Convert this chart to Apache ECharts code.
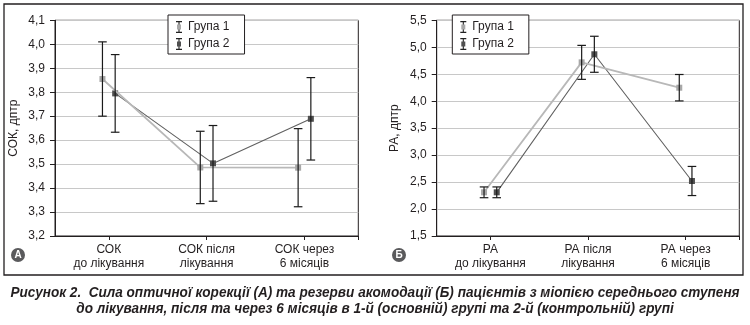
<!DOCTYPE html>
<html><head><meta charset="utf-8">
<script src="https://cdn.jsdelivr.net/npm/echarts@6/dist/echarts.min.js"></script>
<style>html,body{margin:0;padding:0;background:#fff}#c{width:750px;height:325px}</style>
</head><body><div id="c"></div>
<script>
// ---- data ----
const catsA = ['СОК\nдо лікування', 'СОК після\nлікування', 'СОК через\n6 місяців'];
const catsB = ['РА\nдо лікування', 'РА після\nлікування', 'РА через\n6 місяців'];
const seriesNames = ['Група 1', 'Група 2'];
const sokG1 = [3.855, 3.486, 3.485];
const sokG1Err = [0.155, 0.151, 0.163];
const sokG2 = [3.795, 3.503, 3.689];
const sokG2Err = [0.162, 0.158, 0.172];
const raG1 = [2.31, 4.72, 4.25];
const raG1Err = [0.10, 0.315, 0.245];
const raG2 = [2.31, 4.87, 2.52];
const raG2Err = [0.10, 0.334, 0.27];
const yTicksA = {min: 3.2, max: 4.1, interval: 0.1};
const yTicksB = {min: 1.5, max: 5.5, interval: 0.5};
const titleA = 'СОК, дптр';
const titleB = 'РА, дптр';
const captionLines = ['Рисунок 2.  Сила оптичної корекції (А) та резерви акомодації (Б) пацієнтів з міопією середнього ступеня',
  'до лікування, після та через 6 місяців в 1-й (основній) групі та 2-й (контрольній) групі'];

// ---- styles ----
const offs = [-0.065, 0.065];
const c1Line = '#b8b8b8', c1Mark = '#a8a8a8';
const c2Line = '#606060', c2Mark = '#4f4f4f';
const ink = '#231f20';
const font = 'Liberation Sans, Arial, sans-serif';

function pts(vals, g) { return vals.map((v, i) => [i + 1 + offs[g], v]); }
function errs(vals, e, g) { return vals.map((v, i) => [i + 1 + offs[g], v - e[i], v + e[i]]); }

function icon(color) {
  const svg = `<svg xmlns="http://www.w3.org/2000/svg" width="8" height="12" viewBox="0 0 8 12"><path d="M1 0.6H7M4 0.6V11.4M1 11.4H7" stroke="#222" stroke-width="1.1" fill="none"/><rect x="2" y="3.5" width="4" height="5" fill="${color}"/></svg>`;
  return 'image://data:image/svg+xml;charset=utf-8,' + encodeURIComponent(svg);
}

function errRender(params, api) {
  const x = api.value(0), lo = api.value(1), hi = api.value(2);
  const a = api.coord([x, hi]), b = api.coord([x, lo]);
  const w = 4.3;
  const st = {stroke: '#1a1a1a', lineWidth: 1.2};
  return {type: 'group', children: [
    {type: 'line', shape: {x1: a[0], y1: a[1], x2: b[0], y2: b[1]}, style: st},
    {type: 'line', shape: {x1: a[0] - w, y1: a[1], x2: a[0] + w, y2: a[1]}, style: st},
    {type: 'line', shape: {x1: b[0] - w, y1: b[1], x2: b[0] + w, y2: b[1]}, style: st}
  ]};
}

function xAxis(idx, cats) {
  return {
    type: 'value', gridIndex: idx, min: 0.45, max: 3.55,
    axisLine: {show: true, onZero: false, lineStyle: {color: ink, width: 1}},
    axisTick: {show: true, customValues: [1, 2, 3, 3.55], length: 4, lineStyle: {color: ink}},
    axisLabel: {customValues: [1, 2, 3], formatter: v => cats[Math.round(v) - 1],
      color: ink, fontFamily: font, fontSize: 12, lineHeight: 13.5, margin: 7},
    splitLine: {show: false}
  };
}
function yAxis(idx, t, name) {
  return {
    type: 'value', gridIndex: idx, min: t.min, max: t.max, interval: t.interval,
    name: name, nameLocation: 'middle', nameGap: idx === 0 ? 35 : 36, nameRotate: 90,
    nameTextStyle: {color: ink, fontFamily: font, fontSize: 12},
    axisLine: {show: true, lineStyle: {color: ink, width: 1}},
    axisTick: {show: true, length: 5, lineStyle: {color: ink}},
    axisLabel: {color: ink, fontFamily: font, fontSize: 12, margin: 10,
      formatter: v => v.toFixed(1).replace('.', ',')},
    splitLine: {show: true, lineStyle: {color: '#c8c8c8', width: 1}}
  };
}
function lineSeries(idx, name, data, lc, mc, lw, z) {
  return {type: 'line', name: name, xAxisIndex: idx, yAxisIndex: idx, data: data,
    symbol: 'rect', symbolSize: 6, showSymbol: true, z: z,
    lineStyle: {color: lc, width: lw}, itemStyle: {color: mc}, emphasis: {disabled: true}};
}
function errSeries(idx, data, z) {
  return {type: 'custom', xAxisIndex: idx, yAxisIndex: idx, data: data, renderItem: errRender,
    encode: {x: 0, y: [1, 2]}, z: z, silent: true};
}
function legend(idx, left) {
  return {
    show: true, orient: 'vertical', left: left, top: 15,
    borderColor: ink, borderWidth: 1, backgroundColor: '#fff',
    padding: [5, 15, 3, 7], itemGap: 3, itemWidth: 8, itemHeight: 12,
    textStyle: {color: ink, fontFamily: font, fontSize: 12, lineHeight: 14},
    data: [{name: seriesNames[0], icon: icon(c1Mark)}, {name: seriesNames[1], icon: icon(c2Mark)}],
    selectedMode: false
  };
}
const capFont = 'italic bold 15px "Liberation Sans", Arial, sans-serif';
function capText(txt, y) {
  return {type: 'text', x: 375, y: y, scaleX: 0.905,
    style: {text: txt, fill: ink, font: capFont, align: 'center', verticalAlign: 'middle'}, z: 11};
}

const chart = echarts.init(document.getElementById('c'), null, {renderer: 'canvas'});
chart.setOption({
  animation: false,
  backgroundColor: '#fff',
  grid: [
    {left: 55, right: 391.7, top: 20.3, bottom: 89, show: true, borderColor: ink, borderWidth: 1, backgroundColor: 'transparent'},
    {left: 436.7, right: 10.7, top: 20.3, bottom: 89, show: true, borderColor: ink, borderWidth: 1, backgroundColor: 'transparent'}
  ],
  xAxis: [xAxis(0, catsA), xAxis(1, catsB)],
  yAxis: [yAxis(0, yTicksA, titleA), yAxis(1, yTicksB, titleB)],
  legend: [legend(0, 168), legend(1, 452.3)],
  series: [
    lineSeries(0, seriesNames[1], pts(sokG2, 1), c2Line, c2Mark, 1.1, 3),
    lineSeries(0, seriesNames[0], pts(sokG1, 0), c1Line, c1Mark, 1.8, 4),
    errSeries(0, errs(sokG1, sokG1Err, 0), 5),
    errSeries(0, errs(sokG2, sokG2Err, 1), 5),
    lineSeries(1, seriesNames[1], pts(raG2, 1), c2Line, c2Mark, 1.1, 3),
    lineSeries(1, seriesNames[0], pts(raG1, 0), c1Line, c1Mark, 1.8, 4),
    errSeries(1, errs(raG1, raG1Err, 0), 5),
    errSeries(1, errs(raG2, raG2Err, 1), 5)
  ],
  graphic: [
    {type: 'rect', shape: {x: 4, y: 4, width: 739, height: 271}, style: {fill: 'none', stroke: ink, lineWidth: 1.3}, z: 0},
    {type: 'circle', shape: {cx: 18, cy: 255, r: 7}, style: {fill: '#5a5a5c'}, z: 10},
    {type: 'text', x: 18, y: 255, style: {text: 'А', fill: '#fff', font: 'bold 10px ' + font, align: 'center', verticalAlign: 'middle'}, z: 11},
    {type: 'circle', shape: {cx: 399, cy: 255, r: 7}, style: {fill: '#5a5a5c'}, z: 10},
    {type: 'text', x: 399, y: 255, style: {text: 'Б', fill: '#fff', font: 'bold 10px ' + font, align: 'center', verticalAlign: 'middle'}, z: 11},
    capText(captionLines[0], 293),
    capText(captionLines[1], 309)
  ]
});
</script></body></html>
